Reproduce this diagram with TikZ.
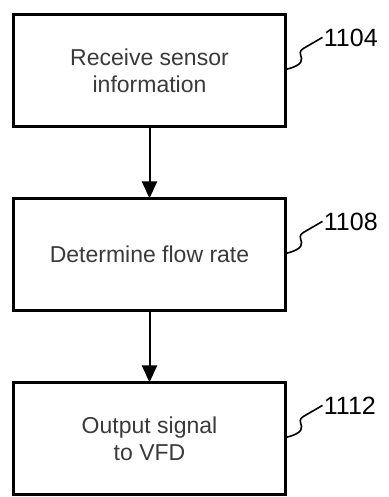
\documentclass[tikz,border=0pt]{standalone}
\usepackage{fontspec}
\setmainfont{Liberation Sans}
\usepackage{tikz}
\usepackage{xcolor}
\usetikzlibrary{arrows.meta,positioning}
\definecolor{text}{HTML}{000000}
\definecolor{soft}{HTML}{3A3A3A}
\tikzset{
  block/.style={draw=text, fill=white, line width=1.5pt, outer sep=0pt,
                minimum width=136pt, minimum height=56pt, align=center,
                text=soft, font=\fontsize{11.5}{13.5}\selectfont},
  arrow/.style={-{Triangle[width=7.5pt,length=8.5pt]}, line width=1pt, draw=text},
  lead/.style={line width=0.8pt, draw=text},
  tag/.style={anchor=west, inner sep=0.5pt, text=text, font=\fontsize{12.5}{15}\selectfont}
}
\begin{document}
\begin{tikzpicture}[node distance=36pt]
    \useasboundingbox (0,0) rectangle (194.5pt,-248.5pt);
    % steps
    \node[block] (b1) at (74.75pt,-35.2pt) {Receive sensor\\information};
    \node[block,below=of b1] (b2) {Determine flow rate};
    \node[block,below=of b2] (b3) {Output signal\\to VFD};
    \draw[arrow] (b1) -- (b2);
    \draw[arrow] (b2) -- (b3);

    % reference numerals
    \foreach \b/\t in {b1/1104,b2/1108,b3/1112}{
      \node[tag] (n\t) at ([xshift=18.5pt,yshift=-11.5pt]\b.north east) {\t};
      \coordinate (s\t) at ([yshift=-27.5pt]\b.north east);
      \draw[lead] (s\t) .. controls +(5pt,1pt) and +(0.5pt,-2.5pt) .. ++(8pt,5.5pt)
                  .. controls +(-0.5pt,2.5pt) and +(-2.5pt,-1.5pt) .. ++(1pt,5pt)
                  -- (n\t.west);
    }
  \end{tikzpicture}
\end{document}
